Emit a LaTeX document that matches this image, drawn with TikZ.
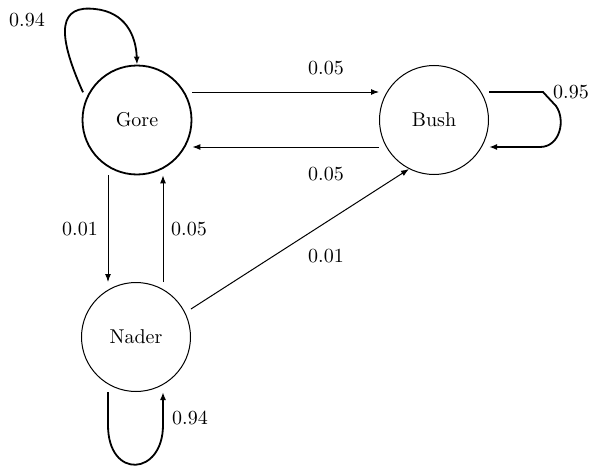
\documentclass[tikz,border=0pt]{standalone}
\usepackage{amsmath}
\usepackage{tikz}
\usetikzlibrary{arrows.meta}
\tikzset{
    state-circle/.style = {draw, circle, minimum size=54.5pt, inner sep=0pt, line width=0.5pt},
    trans-arrow/.style = {-{Latex[length=4pt,width=3pt]}, line width=0.5pt},
    loop-arrow/.style = {-{Latex[length=4pt,width=3pt]}, line width=0.9pt},
}

\begin{document}
\begin{tikzpicture}[x=0.5pt,y=-0.5pt]
\useasboundingbox (0,0) rectangle (590,466);
% states
\node[state-circle, line width=0.9pt] (gore) at (137,120) {Gore};
\node[state-circle] (bush) at (434,120) {Bush};
\node[state-circle] (nader) at (136,337) {Nader};

% transitions between states
\draw[trans-arrow] ([yshift=14pt]gore.east) -- ([yshift=14pt]bush.west);
\draw[trans-arrow] ([yshift=-13.5pt]bush.west) -- ([yshift=-13.5pt]gore.east);
\draw[trans-arrow] ([xshift=-14.5pt]gore.south) -- ([xshift=-14pt]nader.north);
\draw[trans-arrow] ([xshift=13.5pt]nader.north) -- ([xshift=13pt]gore.south);
\draw[trans-arrow] ([yshift=14pt]nader.east) -- (bush.243);

% self loops
\draw[loop-arrow] ([shift={(-3pt,0pt)}]gore.150) .. controls (55,30) and (60,5) .. (95,9)
    .. controls (125,12) and (136,35) .. (gore.north);
\draw[loop-arrow] ([yshift=14pt]bush.east) -- (543,92) -- (556,106)
    .. controls (566,120) and (560,147) .. (540,147) -- ([yshift=-13.5pt]bush.east);
\draw[loop-arrow] ([xshift=-14pt]nader.south) -- (108,425)
    .. controls (108,480) and (163,476) .. (163,425) -- ([xshift=13.5pt]nader.south);

% probabilities
\node (p-gb) at (326,68) {0.05};
\node (p-bg) at (326,174) {0.05};
\node (p-gn) at (80,229) {0.01};
\node (p-ng) at (189,229) {0.05};
\node (p-nb) at (326,256) {0.01};
\node (p-gg) at (27,20) {0.94};
\node (p-bb) at (571,92) {0.95};
\node (p-nn) at (190,418) {0.94};
\end{tikzpicture}
\end{document}
